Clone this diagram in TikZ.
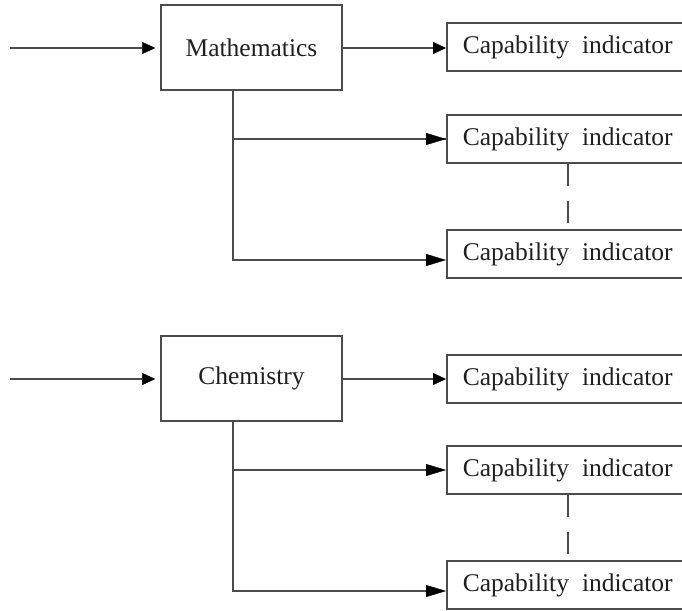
\documentclass[tikz,border=0pt]{standalone}
\usepackage{fontspec}
\setmainfont{Liberation Serif}
\usetikzlibrary{arrows.meta}
\definecolor{ln}{gray}{0.30}
\definecolor{tx}{gray}{0.12}
\begin{document}
\begin{tikzpicture}[x=1pt,y=-1pt,
  every node/.style={font=\fontsize{25.5pt}{30pt}\selectfont, text=tx},
  subject/.style={draw=ln, line width=1.6pt, rectangle, minimum width=181pt, minimum height=85pt, inner sep=0pt},
  capbox/.style={draw=ln, line width=1.6pt, rectangle, anchor=west, minimum height=48pt,
    inner xsep=16pt, inner ysep=0pt, text width=228pt, align=left},
  link/.style={draw=ln, line width=1.6pt},
  shorttip/.style={link, -{Triangle[length=13pt,width=12pt,color=black,fill=black,line width=0.4pt]}},
  longtip/.style={link, -{Triangle[length=20pt,width=12pt,color=black,fill=black,line width=0.4pt]}},
  gap/.style={link, dash pattern=on 22pt off 15pt}]
\useasboundingbox (0,0) rectangle (682,610);
\clip (0,0) rectangle (682,610);
\newcommand{\capt}{Capability\hspace{13pt}indicator}

% ---- Mathematics group ----
\node[subject] (math) at (251.5,47.5) {Mathematics};
\node[capbox] (m1) at (446,47) {\capt};
\node[capbox] (m2) at (446,139) {\capt};
\node[capbox] (m3) at (446,254) {\capt};
\coordinate (min) at (10,48);
\coordinate (mtrunk) at (233,0);
\coordinate (mlow) at (0,260);
\coordinate (mdot) at (568,0);

\draw[shorttip, shorten >=5pt] (min) -- (math.west |- min);
\draw[shorttip] (math.east |- min) -- (m1.west |- min);
\draw[link] (math.south -| mtrunk) |- (m2.west);
\draw[longtip] (mtrunk |- m2.west) -- (m2.west);
\draw[longtip] (math.south -| mtrunk) |- (m3.west |- mlow);
\draw[gap] (m2.south -| mdot) -- (m3.north -| mdot);

% ---- Chemistry group ----
\node[subject] (chem) at (251.5,378.5) {Chemistry};
\node[capbox] (c1) at (446,379) {\capt};
\node[capbox] (c2) at (446,470) {\capt};
\node[capbox] (c3) at (446,585) {\capt};
\coordinate (cin) at (10,379);
\coordinate (clow) at (0,591);

\draw[shorttip, shorten >=5pt] (cin) -- (chem.west |- cin);
\draw[shorttip] (chem.east |- cin) -- (c1.west |- cin);
\draw[longtip] (mtrunk |- c2.west) -- (c2.west);
\draw[longtip] (chem.south -| mtrunk) |- (c3.west |- clow);
\draw[gap] (c2.south -| mdot) -- (c3.north -| mdot);
\end{tikzpicture}
\end{document}
